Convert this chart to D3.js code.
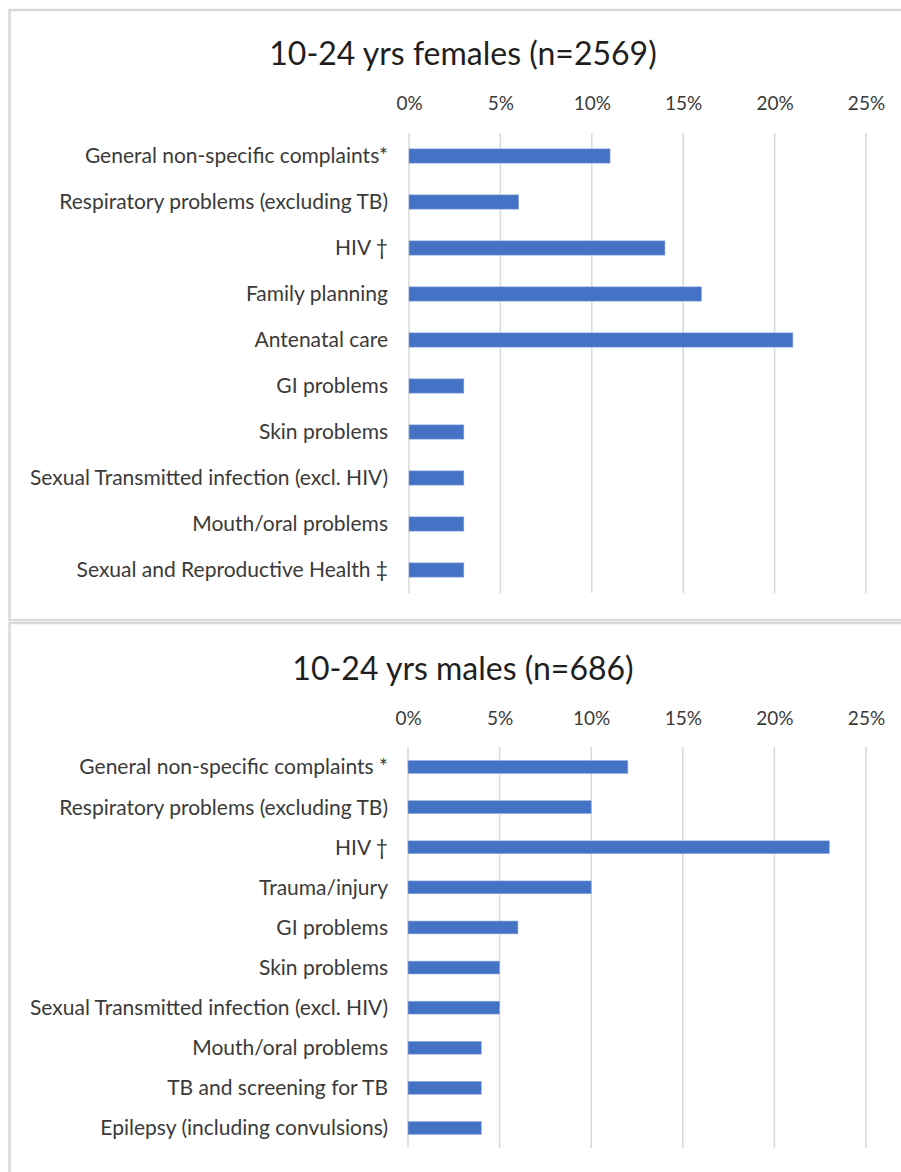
<!DOCTYPE html>
<html>
<head>
<meta charset="utf-8">
<script src="https://cdn.jsdelivr.net/npm/d3@7"></script>
<style>
  body { margin: 0; background: #fff; }
  text { font-family: Lato, "Open Sans", sans-serif; }
</style>
</head>
<body>
<div id="chart"></div>
<script>
// Data
let femaleTitle = "10-24 yrs females (n=2569)";
let femaleCategories = [
    "General non-specific complaints*",
    "Respiratory problems (excluding TB)",
    "HIV \u2020",
    "Family planning",
    "Antenatal care",
    "GI problems",
    "Skin problems",
    "Sexual Transmitted infection (excl. HIV)",
    "Mouth/oral problems",
    "Sexual and Reproductive Health \u2021"
];
let femaleValues = [11, 6, 14, 16, 21, 3, 3, 3, 3, 3];

let maleTitle = "10-24 yrs males (n=686)";
let maleCategories = [
    "General non-specific complaints *",
    "Respiratory problems (excluding TB)",
    "HIV \u2020",
    "Trauma/injury",
    "GI problems",
    "Skin problems",
    "Sexual Transmitted infection (excl. HIV)",
    "Mouth/oral problems",
    "TB and screening for TB",
    "Epilepsy (including convulsions)"
];
let maleValues = [12, 10, 23, 10, 6, 5, 5, 4, 4, 4];

let tickValues = [0, 5, 10, 15, 20, 25];

// Canvas
let svgWidth = 901;
let svgHeight = 1172;

let svg = d3.select("#chart")
    .append("svg")
    .attr("width", svgWidth)
    .attr("height", svgHeight);

// Draw one panel
function drawPanel(cfg) {
    let g = svg.append("g");

    // panel border
    g.append("rect")
        .attr("x", 9.5)
        .attr("y", cfg.top)
        .attr("width", svgWidth + 10)
        .attr("height", cfg.bottom - cfg.top)
        .attr("fill", "none")
        .attr("stroke", "#d9d9d9")
        .attr("stroke-width", 2.5);

    g.append("text")
        .attr("x", 463)
        .attr("y", cfg.titleY)
        .attr("text-anchor", "middle")
        .attr("dominant-baseline", "central")
        .style("font-size", "32px")
        .style("fill", "#1f1f1f")
        .text(cfg.title);

    let x = d3.scaleLinear()
        .domain([0, 25])
        .range([cfg.x0, cfg.x1]);

    let y = d3.scaleBand()
        .domain(cfg.categories)
        .range([cfg.plotTop, cfg.plotBottom])
        .paddingInner(cfg.pad)
        .paddingOuter(cfg.pad / 2);

    // gridlines
    g.selectAll(".grid")
        .data(tickValues)
        .enter()
        .append("line")
        .attr("x1", d => x(d))
        .attr("x2", d => x(d))
        .attr("y1", cfg.plotTop)
        .attr("y2", cfg.plotBottom)
        .attr("stroke", "#d9d9d9")
        .attr("stroke-width", 1.5);

    // top axis labels
    let axis = g.append("g")
        .attr("transform", `translate(0, ${cfg.tickY})`)
        .call(d3.axisTop(x).tickValues(tickValues).tickFormat(d => d + "%").tickSize(0));
    axis.select(".domain").remove();
    axis.selectAll("text")
        .attr("y", 0)
        .attr("dy", "0.35em")
        .style("font-family", "Lato, sans-serif")
        .style("font-size", "19px")
        .style("fill", "#3a3a3a");

    // bars
    g.selectAll(".bar")
        .data(cfg.values)
        .enter()
        .append("rect")
        .attr("x", x(0))
        .attr("y", (d, i) => y(cfg.categories[i]))
        .attr("width", d => x(d) - x(0))
        .attr("height", y.bandwidth())
        .attr("fill", "#4472c4")
        .attr("stroke", "#8fa9dc")
        .attr("stroke-width", 0.6);

    // category labels
    g.selectAll(".label")
        .data(cfg.categories)
        .enter()
        .append("text")
        .attr("x", 388)
        .attr("y", d => y(d) + y.bandwidth() / 2)
        .attr("dy", "0.35em")
        .attr("text-anchor", "end")
        .style("font-size", "21px")
        .style("fill", "#3a3a3a")
        .text(d => d);
}

drawPanel({
    title: femaleTitle,
    categories: femaleCategories,
    values: femaleValues,
    top: 10,
    bottom: 620,
    titleY: 52,
    tickY: 103,
    x0: 409,
    x1: 866,
    plotTop: 133,
    plotBottom: 593,
    pad: 0.69
});

drawPanel({
    title: maleTitle,
    categories: maleCategories,
    values: maleValues,
    top: 623,
    bottom: 1185,
    titleY: 667,
    tickY: 718,
    x0: 408,
    x1: 866,
    plotTop: 747,
    plotBottom: 1148,
    pad: 0.68
});
</script>
</body>
</html>
